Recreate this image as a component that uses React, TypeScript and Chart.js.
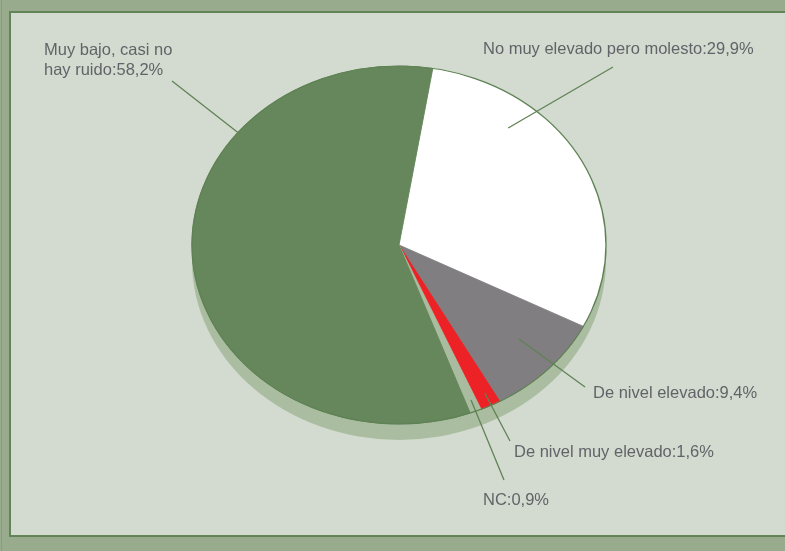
import React, { useEffect, useRef } from "react";
import { Chart, registerables } from "chart.js";

Chart.register(...registerables);

// ---- data ----
const categories = [
  "No muy elevado pero molesto",
  "De nivel elevado",
  "De nivel muy elevado",
  "NC",
  "Muy bajo, casi no hay ruido",
];
const percentages = [29.9, 9.4, 1.6, 0.9, 58.2];
const labelTexts = [
  ["No muy elevado pero molesto:29,9%"],
  ["De nivel elevado:9,4%"],
  ["De nivel muy elevado:1,6%"],
  ["NC:0,9%"],
  ["Muy bajo, casi no", "hay ruido:58,2%"],
];
const sliceColors = ["#ffffff", "#807e81", "#ed2226", "#a9bca0", "#65875b"];

// ---- layout / style ----
const W = 785;
const H = 551;
const K = 179 / 207; // vertical squash of the tilted pie
const DEPTH = 16; // 3D depth in px
const SHADOW = "#aabda1";
const OUTLINE = "#5f8254";
const TEXT = "#606468";
const LINE = "#5f8254";
const FONT = '16.5px "Liberation Sans", Arial, sans-serif';

// anchor: angle (deg, clockwise from top) & fraction of radius; line end; text position
const labelLayout = [
  { angle: 38.9, frac: 0.84, end: [613, 67], text: [483, 49] },
  { angle: 132.2, frac: 0.78, end: [585, 387], text: [593, 393] },
  { angle: 153.4, frac: 0.925, end: [510, 441], text: [514, 452] },
  { angle: 158.1, frac: 0.933, end: [504, 480], text: [483, 500] },
  { angle: 308.9, frac: 1.0, end: [172, 81], text: [44, 50] },
];

const tiltPlugin = {
  id: "tilt",
  beforeDatasetsDraw(chart: any) {
    const arc = chart.getDatasetMeta(0).data[0];
    if (!arc) return;
    const { x, y, outerRadius } = arc;
    const ctx = chart.ctx;
    ctx.save();
    ctx.translate(x, y);
    ctx.scale(1, K);
    ctx.translate(-x, -y);
    ctx.beginPath();
    ctx.arc(x, y + DEPTH / K, outerRadius, 0, Math.PI * 2);
    ctx.fillStyle = SHADOW;
    ctx.fill();
  },
  afterDatasetsDraw(chart: any) {
    const arc = chart.getDatasetMeta(0).data[0];
    if (!arc) return;
    const { x, y, outerRadius } = arc;
    const ctx = chart.ctx;
    ctx.beginPath();
    ctx.arc(x, y, outerRadius, 0, Math.PI * 2);
    ctx.strokeStyle = OUTLINE;
    ctx.lineWidth = 1.4;
    ctx.stroke();
    ctx.restore();

    // labels with leader lines
    ctx.save();
    ctx.font = FONT;
    ctx.textAlign = "left";
    ctx.textBaseline = "middle";
    labelLayout.forEach((l, i) => {
      const t = (l.angle * Math.PI) / 180;
      const px = x + outerRadius * l.frac * Math.sin(t);
      const py = y - outerRadius * l.frac * Math.cos(t) * K;
      ctx.beginPath();
      ctx.moveTo(px, py);
      ctx.lineTo(l.end[0], l.end[1]);
      ctx.strokeStyle = LINE;
      ctx.lineWidth = 1.3;
      ctx.stroke();
      ctx.fillStyle = TEXT;
      labelTexts[i].forEach((s, j) => {
        ctx.fillText(s, l.text[0], l.text[1] + j * 20);
      });
    });
    ctx.restore();
  },
};

export default function App() {
  const ref = useRef<HTMLCanvasElement | null>(null);
  useEffect(() => {
    if (!ref.current) return;
    const chart = new Chart(ref.current, {
      type: "pie",
      data: {
        labels: categories,
        datasets: [
          {
            data: percentages,
            backgroundColor: sliceColors,
            borderColor: sliceColors,
            borderWidth: 1,
          },
        ],
      },
      options: {
        responsive: false,
        animation: false,
        rotation: 9.4,
        radius: 207,
        layout: { padding: { left: 192, right: 179, top: 38, bottom: 99 } },
        plugins: {
          legend: { display: false },
          tooltip: { enabled: false },
        },
      } as any,
      plugins: [tiltPlugin],
    });
    return () => chart.destroy();
  }, []);

  return (
    <div
      style={{
        position: "fixed",
        left: 0,
        top: 0,
        width: W,
        height: H,
        background: "#98ac8d",
        overflow: "hidden",
      }}
    >
      <div
        style={{
          position: "absolute",
          left: 1,
          top: 0,
          width: 1,
          height: H,
          background: "#86a079",
        }}
      />
      <div
        style={{
          position: "absolute",
          left: 9,
          top: 11,
          width: 820,
          height: 522,
          border: "2px solid #638358",
          background: "#d3dbd0",
        }}
      />
      <canvas
        ref={ref}
        width={W}
        height={H}
        style={{ position: "absolute", left: 0, top: 0, width: W, height: H }}
      />
    </div>
  );
}
